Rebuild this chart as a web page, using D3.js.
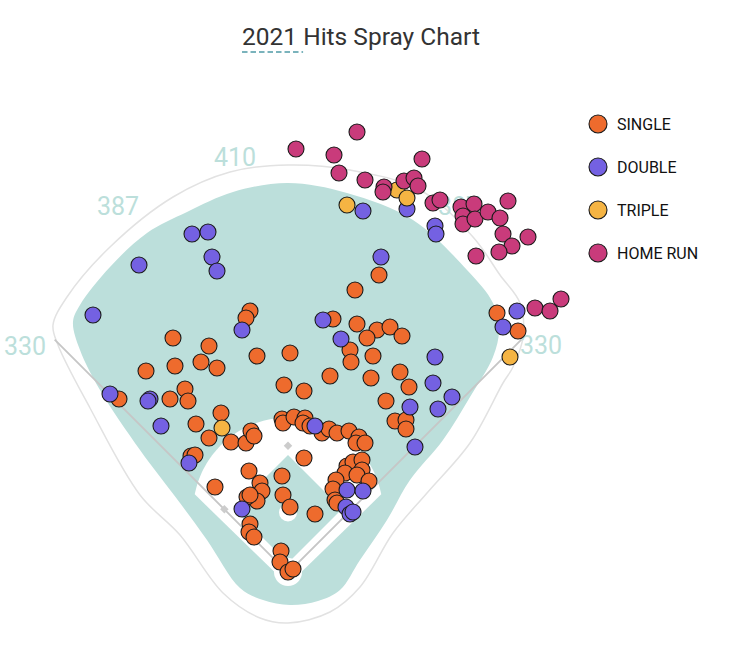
<!DOCTYPE html>
<html>
<head>
<meta charset="utf-8">
<script src="https://cdn.jsdelivr.net/npm/d3@7"></script>
<style>
body { margin: 0; background: #fff; font-family: Roboto, "Noto Sans", sans-serif; }
</style>
</head>
<body>
<svg id="chart" width="734" height="656"></svg>
<script>
// hit landing spots in feet from home plate: [x toward right field, y toward center field]
let singles = [
  [91,298],[67,283],[45,254],[69,249],[89,243],[102,246],[114,237],[79,235],[62,223],[63,211],
  [85,217],[42,197],[83,195],[112,201],[121,186],[98,172],[16,182],[-4,188],[209,260],[230,242],
  [107,152],[118,153],[118,144],
  [-38,262],[-42,255],[-115,235],[-79,227],[-31,217],[2,220],[-87,211],[-113,207],[-71,205],[-142,202],
  [-169,174],[-118,174],[-103,184],[-100,172],[-67,160],[-92,149],[-79,135],[-57,131],[-42,130],
  [-37,142],[-34,137],[-97,117],[-93,118],[-73,86],
  [-6,154],[-5,150],[6,156],[17,155],[15,150],[22,147],[34,140],[41,144],[49,140],[61,142],
  [71,136],[68,130],[77,130],
  [16,115],[-6,97],[-5,78],[2,66],[27,59],[-39,102],[-28,90],[-26,82],[-31,72],[-41,76],[-38,78],
  [-38,49],[-39,41],[-34,36],[-7,22],[-8,11],[0,1],[5,4],
  [59,107],[65,111],[74,113],[74,103],[57,100],[69,98],[81,92],[48,93],[45,84],[47,73],[49,70]
];
let doubles = [
  [75,362],[119,364],[147,347],[148,339],[93,316],[-96,339],[-80,341],[-149,308],[-76,316],[-71,302],
  [-195,258],[-46,243],[35,253],[53,234],[147,216],[145,190],[164,176],[150,164],[122,166],[229,262],
  [215,246],[-178,179],[-138,174],[-140,172],[-127,147],[-99,110],[27,147],[127,126],[59,83],[75,82],
  [58,66],[62,59],[65,61],[-46,64]
];
let triples = [[59,368],[109,383],[119,375],[222,216],[-66,145]];
let homeRuns = [
  [8,424],[69,441],[46,418],[51,400],[77,393],[134,414],[96,386],[95,381],[116,392],[126,395],
  [130,387],[145,370],[152,373],[173,366],[175,357],[175,349],[186,369],[187,354],[200,361],[212,355],
  [220,372],[215,339],[224,327],[240,336],[211,321],[188,317],[247,265],[262,262],[273,274]
];

let hitTypes = ['SINGLE', 'DOUBLE', 'TRIPLE', 'HOME RUN'];
let hitColors = ['#ee6b2d', '#7461e2', '#f5b443', '#c93b7b'];

let wallLabels = ['410', '387', '330', '330', '387'];
let wallLabelSpots = [[-53,416], [-170,367], [-263,227], [253,228], [171,367]];

// park outline and outfield grass edge, feet
let parkEdge = [
  [0,-50],[-28,-45],[-65,-20],[-108,38],[-148,78],[-198,165],[-230,228],[-235,248],[-221,276],
  [-178,326],[-115,376],[-58,401],[0,408],[62,403],[132,383],[185,336],[212,298],[232,270],
  [235,236],[225,206],[215,190],[182,130],[139,80],[105,40],[72,-14],[42,-39]
];
let grassEdge = [
  [0,390],[59,380],[125,353],[179,303],[205,270],[211,243],[205,216],[182,176],[155,133],[122,93],
  [99,53],[72,13],[52,-17],[30,-28],[2,-32],[-25,-27],[-48,-15],[-81,33],[-108,70],[-148,123],
  [-188,183],[-208,223],[-215,251],[-208,268],[-178,306],[-141,340],[-101,361],[-55,381]
];

let foulPole = 330;
let baseDist = 90;
let moundDist = 60.5;

let svg = d3.select('#chart');

let x = d3.scaleLinear().domain([-300, 300]).range([-12, 588]);
let y = d3.scaleLinear().domain([0, 450]).range([573, 123]);

let closedShape = d3.line()
  .x(d => x(d[0]))
  .y(d => y(d[1]))
  .curve(d3.curveCatmullRomClosed.alpha(0.5));
let straight = d3.line().x(d => x(d[0])).y(d => y(d[1]));

let field = svg.append('g');

field.append('path')
  .attr('d', closedShape(parkEdge))
  .attr('fill', '#fff')
  .attr('stroke', '#e2e2e2')
  .attr('stroke-width', 1.5);

field.append('path')
  .attr('d', closedShape(grassEdge))
  .attr('fill', '#bcdfdb');

// infield dirt: strips along the lines plus the arc round the mound
let arcPts = d3.range(-79, 79.5, 2).map(a => {
  let r = a * Math.PI / 180;
  return [95 * Math.sin(r), moundDist + 95 * Math.cos(r)];
});
let dirt = [[0, -12]].concat(arcPts);
field.append('path')
  .attr('d', straight(dirt) + 'Z')
  .attr('fill', '#fff');

let innerGrass = [[0, 118], [54, 64], [0, 10], [-54, 64]];
field.append('path')
  .attr('d', straight(innerGrass) + 'Z')
  .attr('fill', '#bcdfdb');

field.append('circle')
  .attr('cx', x(0)).attr('cy', y(moundDist))
  .attr('r', x(9) - x(0))
  .attr('fill', '#fff');
field.append('circle')
  .attr('cx', x(0)).attr('cy', y(1))
  .attr('r', x(14) - x(0))
  .attr('fill', '#fff');

let poleOff = foulPole / Math.SQRT2;
field.append('path')
  .attr('d', straight([[-poleOff, poleOff], [0, 0], [poleOff, poleOff]]))
  .attr('fill', 'none')
  .attr('stroke', '#c6c6c6')
  .attr('stroke-width', 1.8);

let b = baseDist / Math.SQRT2;
field.selectAll('.base')
  .data([[-b, b], [0, baseDist * Math.SQRT2], [b, b]])
  .enter()
  .append('rect')
  .attr('class', 'base')
  .attr('x', -3).attr('y', -3)
  .attr('width', 6).attr('height', 6)
  .attr('fill', '#cccccc')
  .attr('transform', d => 'translate(' + x(d[0]) + ',' + y(d[1]) + ') rotate(45)');

field.selectAll('.dist')
  .data(wallLabels)
  .enter()
  .append('text')
  .attr('class', 'dist')
  .attr('x', (d, i) => x(wallLabelSpots[i][0]))
  .attr('y', (d, i) => y(wallLabelSpots[i][1]))
  .attr('text-anchor', 'middle')
  .attr('dominant-baseline', 'central')
  .attr('font-size', 25)
  .attr('fill', '#bcdfdb')
  .text(d => d);

// hits
let allHits = [singles, doubles, triples, homeRuns];
let dots = svg.append('g');
allHits.forEach((list, i) => {
  dots.selectAll('.hit' + i)
    .data(list)
    .enter()
    .append('circle')
    .attr('class', 'hit' + i)
    .attr('cx', d => x(d[0]))
    .attr('cy', d => y(d[1]))
    .attr('r', 8)
    .attr('fill', hitColors[i])
    .attr('stroke', '#1b1b1b')
    .attr('stroke-width', 1.1);
});

// legend
let legend = svg.append('g').attr('transform', 'translate(598,124)');
let rows = legend.selectAll('g')
  .data(hitTypes)
  .enter()
  .append('g')
  .attr('transform', (d, i) => 'translate(0,' + i * 43 + ')');
rows.append('circle')
  .attr('r', 9)
  .attr('fill', (d, i) => hitColors[i])
  .attr('stroke', '#1b1b1b')
  .attr('stroke-width', 1.1);
rows.append('text')
  .attr('x', 19)
  .attr('dominant-baseline', 'central')
  .attr('font-size', 16)
  .attr('fill', '#111')
  .text(d => d);

// title
let title = svg.append('text')
  .attr('x', 361)
  .attr('y', 45)
  .attr('text-anchor', 'middle')
  .attr('font-size', 24.5)
  .attr('fill', '#333');
let yr = title.append('tspan').text('2021');
title.append('tspan').text(' Hits Spray Chart');
let tb = title.node().getBBox();
let yrW = yr.node().getComputedTextLength();
svg.append('line')
  .attr('x1', tb.x).attr('x2', tb.x + yrW + 6)
  .attr('y1', 52).attr('y2', 52)
  .attr('stroke', '#4f9aa6')
  .attr('stroke-width', 1.5)
  .attr('stroke-dasharray', '5.5,3');
</script>
</body>
</html>
